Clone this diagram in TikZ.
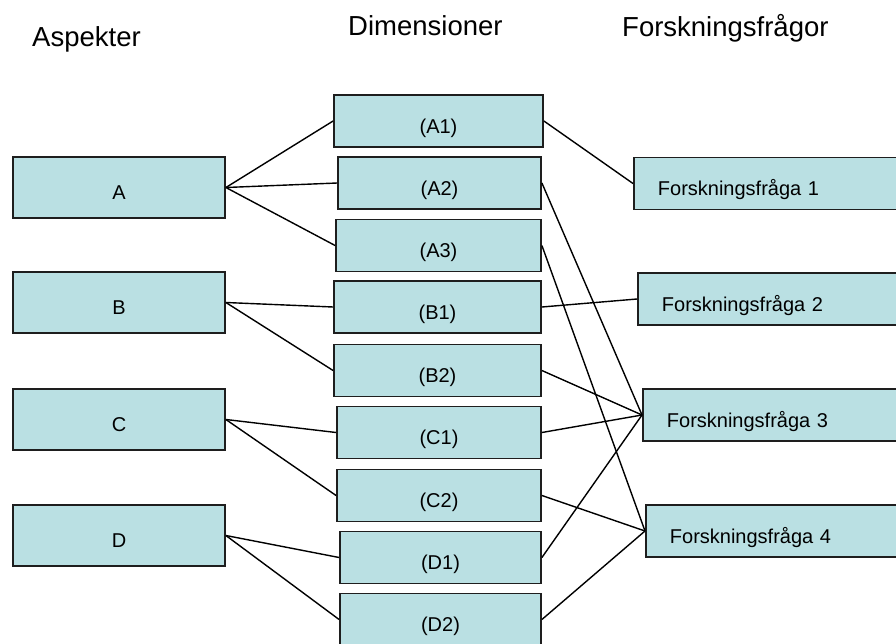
\documentclass[tikz,border=0pt]{standalone}
\usepackage{fontspec}
\setmainfont{Liberation Sans}
\usepackage{xcolor}
\usetikzlibrary{positioning}
\definecolor{boxfill}{RGB}{186,224,227}
\definecolor{boxline}{RGB}{30,30,30}
\tikzset{%
	block/.style    = {draw=boxline, fill=boxfill, line width=1.8pt, rectangle, inner sep=0pt,
	                   text height=24pt, text depth=0pt, font=\fontsize{20}{24}\selectfont},
	aspect/.style   = {block, minimum width=212pt, minimum height=61pt}, % Aspekter
	dimbox/.style   = {block, minimum height=52pt}, % Dimensioner
	question/.style = {block, anchor=west, minimum height=52pt, text width=250pt,
	                   inner xsep=24pt, align=left}, % Forskningsfragor
	heading/.style  = {anchor=base west, inner sep=0pt, font=\fontsize{27.5}{33}\selectfont},
	link/.style     = {line width=1.4pt, black},
}

\begin{document}
\begin{tikzpicture}[x=1pt,y=-1pt]
	\useasboundingbox (0,0) rectangle (896,643);
	\clip (0,0) rectangle (896,643);

	% column headings
	\node [heading] (hasp) at (32,46) {Aspekter};
	\node [heading] (hdim) at (348,35) {Dimensioner};
	\node [heading] (hfq)  at (622,36) {Forskningsfrågor};

	% aspects
	\node [aspect] (a) at (119,187.5) {A};
	\node [aspect] (b) at (119,302.5) {B};
	\node [aspect] (c) at (119,419.5) {C};
	\node [aspect] (d) at (119,535.5) {D};

	% dimensions
	\node [dimbox,minimum width=209pt] (a1) at (438.5,121)   {(A1)};
	\node [dimbox,minimum width=203pt] (a2) at (439.5,183)   {(A2)};
	\node [dimbox,minimum width=205pt] (a3) at (438.5,245.5) {(A3)};
	\node [dimbox,minimum width=207pt] (b1) at (437.5,307)   {(B1)};
	\node [dimbox,minimum width=207pt] (b2) at (437.5,370.5) {(B2)};
	\node [dimbox,minimum width=204pt] (c1) at (439,432.5)   {(C1)};
	\node [dimbox,minimum width=204pt] (c2) at (439,495.5)   {(C2)};
	\node [dimbox,minimum width=201pt] (d1) at (440.5,557.5) {(D1)};
	\node [dimbox,minimum width=201pt] (d2) at (440.5,619.5) {(D2)};

	% research questions
	\node [question] (q1) at (633,183.5) {Forskningsfråga 1};
	\node [question] (q2) at (637,299)   {Forskningsfråga 2};
	\node [question] (q3) at (642,415)   {Forskningsfråga 3};
	\node [question] (q4) at (645,531)   {Forskningsfråga 4};

	% aspects to dimensions
	\draw [link] (a.east) -- (a1.west);
	\draw [link] (a.east) -- (a2.west);
	\draw [link] (a.east) -- (a3.west);
	\draw [link] (b.east) -- (b1.west);
	\draw [link] (b.east) -- (b2.west);
	\draw [link] (c.east) -- (c1.west);
	\draw [link] (c.east) -- (c2.west);
	\draw [link] (d.east) -- (d1.west);
	\draw [link] (d.east) -- (d2.west);

	% dimensions to questions
	\draw [link] (a1.east) -- (q1.west);
	\draw [link] (a2.east) -- (q3.west);
	\draw [link] (a3.east) -- (q4.west);
	\draw [link] (b1.east) -- (q2.west);
	\draw [link] (b2.east) -- (q3.west);
	\draw [link] (c1.east) -- (q3.west);
	\draw [link] (c2.east) -- (q4.west);
	\draw [link] (d1.east) -- (q3.west);
	\draw [link] (d2.east) -- (q4.west);
\end{tikzpicture}
\end{document}
